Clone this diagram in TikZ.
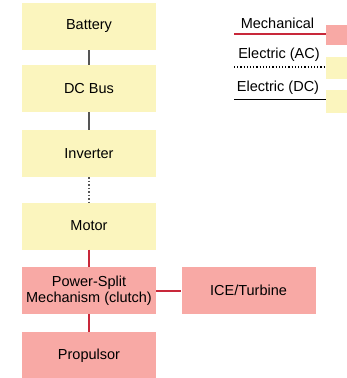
\documentclass[tikz,border=0pt]{standalone}
\usepackage{fontspec}
\setmainfont{Liberation Sans}
\usetikzlibrary{positioning}
\definecolor{elecfill}{HTML}{FBF5BE}
\definecolor{mechfill}{HTML}{F8A9A5}
\definecolor{mechline}{HTML}{C8283A}
\definecolor{dcline}{HTML}{555555}
\tikzset{
  pbox/.style={align=center, font=\fontsize{14.5}{16}\selectfont, inner sep=2pt,
    minimum width=134pt, minimum height=47pt},
  pelec/.style={pbox, fill=elecfill},
  pmech/.style={pbox, fill=mechfill},
  pkey/.style={font=\fontsize{14.5}{16}\selectfont, inner sep=1pt},
  pkeybox/.style={minimum width=40pt, minimum height=20pt, inner sep=0pt},
  dcwire/.style={draw=dcline, line width=1.8pt},
  acwire/.style={draw=dcline, line width=1.5pt, dotted},
  mechlink/.style={draw=mechline, line width=2pt}
}
\begin{document}
\begin{tikzpicture}[x=1pt,y=-1pt]
  \useasboundingbox (0,0) rectangle (347,378);
  \node[pelec] (bat) at (89,26.5) {Battery};
  \node[pelec] (bus) at (89,88.5) {DC Bus};
  \node[pelec] (inv) at (89,153.5) {Inverter};
  \node[pelec] (mot) at (89,226) {Motor};
  \node[pmech] (split) at (89,290.5) {Power-Split\\Mechanism (clutch)};
  \node[pmech] (prop) at (89,355.5) {Propulsor};
  \node[pmech] (ice) at (248.5,290.5) {ICE/Turbine};
  % legend
  \node[pkey] (kmech) at (277.5,23) {Mechanical};
  \node[pkey] (kac) at (279,55) {Electric (AC)};
  \node[pkey] (kdc) at (278,88) {Electric (DC)};
  \node[pkeybox, fill=mechfill, anchor=north west] (bmech) at (326,24.5) {};
  \node[pkeybox, fill=elecfill, anchor=north west, minimum height=22pt] (bac) at (326,57) {};
  \node[pkeybox, fill=elecfill, anchor=north west, minimum height=23pt] (bdc) at (326,89.5) {};
  \coordinate (lmech) at (234,34);
  \coordinate (lac) at (234,67);
  \coordinate (ldc) at (234,99.5);
  \draw[mechlink, line width=1.5pt] (lmech) -- (lmech -| bmech.west);
  \draw[dotted, line width=1.2pt] (lac) -- (lac -| bac.west);
  \draw[line width=1.2pt] (ldc) -- (ldc -| bdc.west);
  % links
  \draw[dcwire] (bat) -- (bus);
  \draw[dcwire] (bus) -- (inv);
  \draw[acwire] (inv) -- (mot);
  \draw[mechlink] (mot) -- (split);
  \draw[mechlink] (split) -- (prop);
  \draw[mechlink] (split) -- (ice);
\end{tikzpicture}
\end{document}
